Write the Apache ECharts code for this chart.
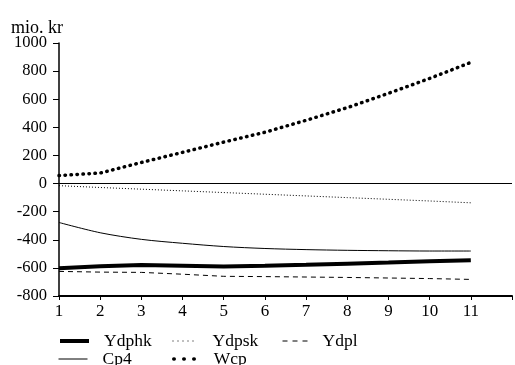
<!DOCTYPE html>
<html><head><meta charset="utf-8">
<script src="https://cdn.jsdelivr.net/npm/echarts@6/dist/echarts.min.js"></script>
<style>html,body{margin:0;padding:0;background:#fff}#c{width:515px;height:365px}</style>
</head><body><div id="c"></div>
<script>
var periods = [1,2,3,4,5,6,7,8,9,10,11];
var yTicks = [-800,-600,-400,-200,0,200,400,600,800,1000];
var Ydphk = [-603,-588,-580,-585,-590,-585,-578,-570,-562,-553,-545];
var Ydpsk = [-15,-28,-40,-52,-64,-76,-88,-100,-112,-124,-137];
var Ydpl  = [-625,-630,-632,-645,-660,-662,-665,-668,-672,-676,-682];
var Cp4   = [-277,-350,-397,-425,-448,-462,-470,-475,-478,-480,-480];
var Wcp   = [57,75,150,222,295,365,450,540,642,748,862];
var unit = 'mio. kr';

function pairs(v){ return periods.map(function(p,i){ return [p, v[i]]; }); }
var FONT = '"Liberation Serif", "Times New Roman", serif';
var chart = echarts.init(document.getElementById('c'), null, {renderer:'canvas'});
var leg = function(name, left, top, w, ls){
  return {data:[name], left:left, top:top, itemWidth:w, itemHeight:10, itemGap:0,
    itemStyle:{color:'transparent', borderColor:'transparent', borderWidth:0},
    lineStyle:ls,
    textStyle:{fontFamily:FONT, fontSize:17.5, color:'#000', padding:[0,0,0,10]}, selectedMode:false};
};
chart.setOption({
  animation:false,
  title:{text:unit, left:6, top:14, textStyle:{fontFamily:FONT, fontSize:18, fontWeight:'normal', color:'#000'}},
  legend:[
    leg('Ydphk',53,327,29,{color:'#000', width:4}),
    leg('Ydpsk',167,327,25,{color:'#000', width:1, type:[1,4]}),
    leg('Ydpl',277,327,25,{color:'#000', width:1, type:[5,5]}),
    leg('Cp4',53,345,29,{color:'#000', width:1}),
    leg('Wcp',167,345,25,{color:'#000', width:3.5, type:[0.5,9.5], cap:'round'})
  ],
  grid:{left:59, right:0, top:43, bottom:69, containLabel:false},
  xAxis:{type:'value', min:1, max:12, interval:1,
    axisLine:{onZero:false, lineStyle:{color:'#000', width:2}},
    axisTick:{show:true, length:4, lineStyle:{color:'#000'}},
    splitLine:{show:false},
    axisLabel:{fontFamily:FONT, fontSize:17, color:'#000', margin:7,
      formatter:function(v){ return v<=11 ? String(v) : ''; }}},
  yAxis:{type:'value', min:-800, max:1000, interval:200,
    axisLine:{show:true, onZero:false, lineStyle:{color:'#000', width:1.5}},
    axisTick:{show:true, length:6, lineStyle:{color:'#000'}},
    splitLine:{show:false},
    axisLabel:{fontFamily:FONT, fontSize:16.5, color:'#000', margin:12,
      formatter:function(v){ return yTicks.indexOf(v)>=0 ? String(v) : ''; }}},
  series:[
    {name:'Ydphk', type:'line', data:pairs(Ydphk), symbol:'none', lineStyle:{color:'#000', width:4}, itemStyle:{color:'#000'},
      markLine:{silent:true, symbol:'none', label:{show:false}, lineStyle:{color:'#000', width:1.2, type:'solid'}, data:[{yAxis:0}]}},
    {name:'Ydpsk', type:'line', data:pairs(Ydpsk), symbol:'none', lineStyle:{color:'#000', width:1, type:[1,2]}, itemStyle:{color:'#000'}},
    {name:'Ydpl', type:'line', data:pairs(Ydpl), symbol:'none', lineStyle:{color:'#000', width:1, type:[5,4]}, itemStyle:{color:'#000'}},
    {name:'Cp4', type:'line', data:pairs(Cp4), symbol:'none', smooth:0.3, lineStyle:{color:'#000', width:1}, itemStyle:{color:'#000'}},
    {name:'Wcp', type:'line', data:pairs(Wcp), symbol:'none', lineStyle:{color:'#000', width:3.5, type:[0.5,5.5], cap:'round'}, itemStyle:{color:'#000'}}
  ]
});
</script></body></html>
